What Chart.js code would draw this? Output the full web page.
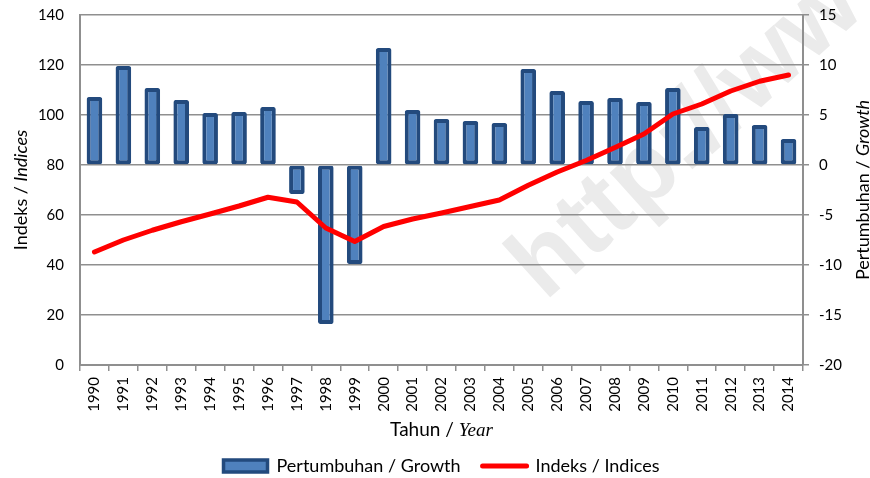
<!DOCTYPE html>
<html>
<head>
<meta charset="utf-8">
<script src="https://cdn.jsdelivr.net/npm/chart.js@4.4.1/dist/chart.umd.min.js"></script>
<style>
html,body{margin:0;padding:0;background:#fff;}
#wrap{position:relative;width:870px;height:478px;}
</style>
</head>
<body>
<div id="wrap"><canvas id="c" width="870" height="478"></canvas></div>
<script>
// ---- data ----
const years = ['1990','1991','1992','1993','1994','1995','1996','1997','1998','1999','2000','2001','2002','2003','2004','2005','2006','2007','2008','2009','2010','2011','2012','2013','2014'];
const growth = [6.8, 9.9, 7.7, 6.5, 5.2, 5.3, 5.8, -2.9, -15.9, -9.9, 11.7, 5.5, 4.6, 4.4, 4.2, 9.6, 7.4, 6.4, 6.7, 6.3, 7.7, 3.8, 5.1, 4.0, 2.6];
const indices = [45.2, 50.0, 53.9, 57.3, 60.4, 63.6, 67.1, 65.2, 54.8, 49.4, 55.4, 58.4, 60.8, 63.4, 66.0, 71.9, 77.2, 81.8, 87.0, 92.4, 100.4, 104.4, 109.6, 113.5, 116.0];
const leftTicks = {min: 0, max: 140, step: 20};
const rightTicks = {min: -20, max: 15, step: 5};
const seriesNames = ['Pertumbuhan / Growth', 'Indeks / Indices'];

// ---- styles ----
const GRID = '#8f8f8f';
const TICK_FONT = {family: 'Lato', size: 15};
const SANS = 'Lato';

const titlePlugin = {
  id: 'titles',
  beforeDraw(chart) {
    const ctx = chart.ctx;
    ctx.save();
    ctx.translate(545, 302);
    ctx.rotate(-42 * Math.PI / 180);
    ctx.font = 'bold 100px "Liberation Sans"';
    ctx.fillStyle = '#ebebeb';
    ctx.textBaseline = 'alphabetic';
    ctx.fillText('http://www.bps.go.id', 0, 0);
    ctx.restore();
  },
  afterDraw(chart) {
    const ctx = chart.ctx;
    const a = chart.chartArea;
    const midY = (a.top + a.bottom) / 2;
    const draw = (parts, x, y, rot) => {
      ctx.save();
      ctx.translate(x, y);
      ctx.rotate(rot);
      ctx.textAlign = 'left';
      ctx.textBaseline = 'alphabetic';
      ctx.fillStyle = '#000';
      let total = 0;
      parts.forEach(p => { ctx.font = p.f; p.w = ctx.measureText(p.t).width; total += p.w; });
      let cx = -total / 2;
      parts.forEach(p => { ctx.font = p.f; ctx.fillText(p.t, cx, 0); cx += p.w; });
      ctx.restore();
    };
    draw([{t: 'Indeks / ', f: '18px ' + SANS}, {t: 'Indices', f: 'italic 18px ' + SANS}], 27, midY, -Math.PI / 2);
    draw([{t: 'Pertumbuhan / ', f: '18px ' + SANS}, {t: 'Growth', f: 'italic 18px ' + SANS}], 869, midY, -Math.PI / 2);
    draw([{t: 'Tahun / ', f: '19px ' + SANS}, {t: 'Year', f: 'italic 19px "Liberation Serif"'}], (a.left + a.right) / 2, 436, 0);
  }
};

new Chart(document.getElementById('c'), {
  data: {
    labels: years,
    datasets: [
      {
        type: 'bar',
        label: seriesNames[0],
        data: growth,
        yAxisID: 'y1',
        backgroundColor: '#4F81BD',
        borderColor: '#234A7D',
        borderWidth: 4,
        borderSkipped: false,
        borderRadius: 2,
        barPercentage: 0.54,
        categoryPercentage: 1.0,
        order: 1
      },
      {
        type: 'line',
        label: seriesNames[1],
        data: indices,
        yAxisID: 'y',
        borderColor: '#FF0000',
        backgroundColor: '#FF0000',
        borderWidth: 5,
        borderJoinStyle: 'round',
        borderCapStyle: 'round',
        pointRadius: 0,
        tension: 0,
        order: 0
      }
    ]
  },
  options: {
    responsive: false,
    animation: false,
    devicePixelRatio: 1,
    layout: {padding: {top: 15, left: 0, right: 0, bottom: 0}},
    plugins: {
      tooltip: {enabled: false},
      legend: {
        position: 'bottom',
        fullSize: false,
        maxHeight: 43,
        labels: {
          font: {family: SANS, size: 18},
          color: '#000',
          usePointStyle: true,
          pointStyleWidth: 44,
          boxHeight: 12,
          padding: 22,
          generateLabels(chart) {
            const items = Chart.defaults.plugins.legend.labels.generateLabels(chart);
            items.forEach(it => {
              if (it.datasetIndex === 1) {
                it.pointStyle = 'line';
                it.lineWidth = 5;
                it.strokeStyle = '#FF0000';
                it.lineCap = 'round';
              } else {
                it.pointStyle = 'rect';
                it.lineWidth = 3.5;
                it.fillStyle = '#4F81BD';
                it.strokeStyle = '#234A7D';
              }
            });
            return items.sort((p, q) => p.datasetIndex - q.datasetIndex);
          }
        }
      }
    },
    scales: {
      x: {
        type: 'category',
        offset: true,
        grid: {display: true, drawOnChartArea: false, offset: true, tickLength: 6, color: GRID, lineWidth: 1.5},
        border: {display: true, color: GRID, width: 2},
        ticks: {autoSkip: false, maxRotation: 90, minRotation: 90, font: TICK_FONT, color: '#000', padding: 6},
        afterFit(s) { s.height = 70; s.paddingLeft = 0; s.paddingRight = 0; }
      },
      y: {
        position: 'left',
        min: leftTicks.min,
        max: leftTicks.max,
        ticks: {stepSize: leftTicks.step, font: TICK_FONT, color: '#000', padding: 16},
        grid: {color: GRID, lineWidth: 1.5, drawTicks: false},
        border: {display: true, color: GRID, width: 2},
        afterFit(s) { s.width = 80; s.paddingTop = 0; s.paddingBottom = 0; }
      },
      y1: {
        position: 'right',
        min: rightTicks.min,
        max: rightTicks.max,
        ticks: {stepSize: rightTicks.step, font: TICK_FONT, color: '#000', padding: 10},
        grid: {drawOnChartArea: false, tickLength: 6, color: GRID, lineWidth: 1.5},
        border: {display: true, color: GRID, width: 2},
        afterFit(s) { s.width = 67; s.paddingTop = 0; s.paddingBottom = 0; }
      }
    }
  },
  plugins: [titlePlugin]
});
</script>
</body>
</html>
